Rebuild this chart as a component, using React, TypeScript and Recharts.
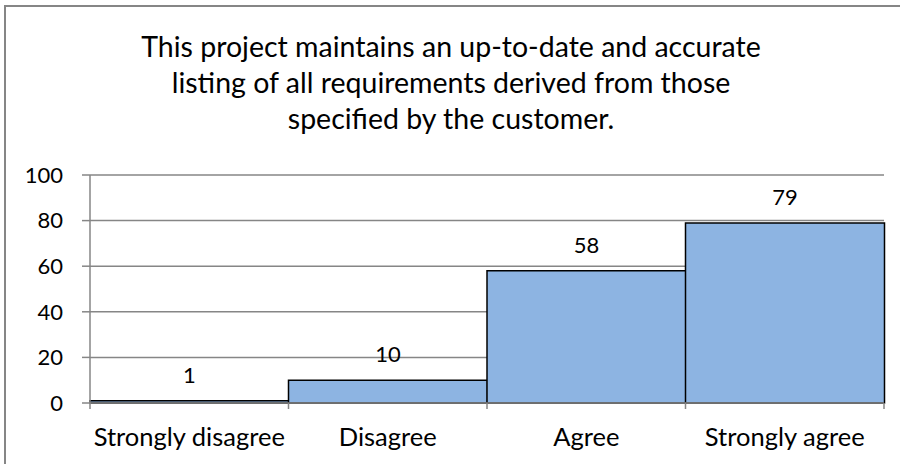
import React from 'react';
import { BarChart, Bar, XAxis, YAxis, CartesianGrid, LabelList } from 'recharts';

const categories = ['Strongly disagree', 'Disagree', 'Agree', 'Strongly agree'];
const counts = [1, 10, 58, 79];
const yTicks = [0, 20, 40, 60, 80, 100];
const titleLines = [
  'This project maintains an up-to-date and accurate',
  'listing of all requirements derived from those',
  'specified by the customer.',
];

const data = categories.map((c, i) => ({ name: c, value: counts[i] }));

const W = 900;
const H = 464;
const X_H = 30;
const M = { top: 175, right: 16, bottom: 61 - X_H, left: 0 };
const Y_W = 90;
const FONT = 'Lato, "Open Sans", sans-serif';
const GRAY = '#868686';
const band = (W - M.left - M.right - Y_W) / categories.length;

const XTick = (props: any) => {
  const { x, y, payload, index } = props;
  const left = x - band / 2;
  const right = x + band / 2;
  return (
    <g>
      <line x1={left} x2={left} y1={y - 6} y2={y} stroke={GRAY} strokeWidth={1.5} />
      {index === categories.length - 1 && (
        <line x1={right} x2={right} y1={y - 6} y2={y} stroke={GRAY} strokeWidth={1.5} />
      )}
      <text x={x} y={y} dy={37} textAnchor="middle" fill="#000" fontSize={25.5} fontFamily={FONT}>
        {payload.value}
      </text>
    </g>
  );
};

export default function App() {
  return (
    <div style={{ position: 'absolute', left: 0, top: 0, width: W, height: H, overflow: 'hidden', background: '#fff' }}>
      <div
        style={{
          position: 'absolute',
          left: 4,
          top: 5,
          width: W + 20,
          height: H + 20,
          border: `2px solid ${GRAY}`,
          boxSizing: 'border-box',
        }}
      />
      <div
        style={{
          position: 'absolute',
          left: 0,
          top: 28,
          width: 902,
          textAlign: 'center',
          fontFamily: FONT,
          fontSize: 28.5,
          lineHeight: '36px',
          color: '#000',
        }}
      >
        {titleLines.map((l) => (
          <div key={l}>{l}</div>
        ))}
      </div>
      <div style={{ position: 'absolute', left: 0, top: 0 }}>
        <BarChart width={W} height={H} data={data} margin={M} barCategoryGap={0}>
          <CartesianGrid vertical={false} stroke={GRAY} strokeWidth={1.5} />
          <XAxis
            dataKey="name"
            height={X_H}
            tickLine={false}
            tickSize={6}
            tickMargin={0}
            axisLine={{ stroke: GRAY, strokeWidth: 1.5 }}
            tick={<XTick />}
            interval={0}
          />
          <YAxis
            width={Y_W}
            domain={[0, 100]}
            ticks={yTicks}
            tickSize={8}
            tickMargin={19}
            axisLine={{ stroke: GRAY, strokeWidth: 1.5 }}
            tickLine={{ stroke: GRAY, strokeWidth: 1.5 }}
            tick={{ fill: '#000', fontSize: 22, fontFamily: FONT }}
          />
          <Bar dataKey="value" fill="#8DB4E2" stroke="#000" strokeWidth={1.5} isAnimationActive={false}>
            <LabelList dataKey="value" position="top" offset={18} fill="#000" fontSize={22} fontFamily={FONT} />
          </Bar>
        </BarChart>
      </div>
    </div>
  );
}
